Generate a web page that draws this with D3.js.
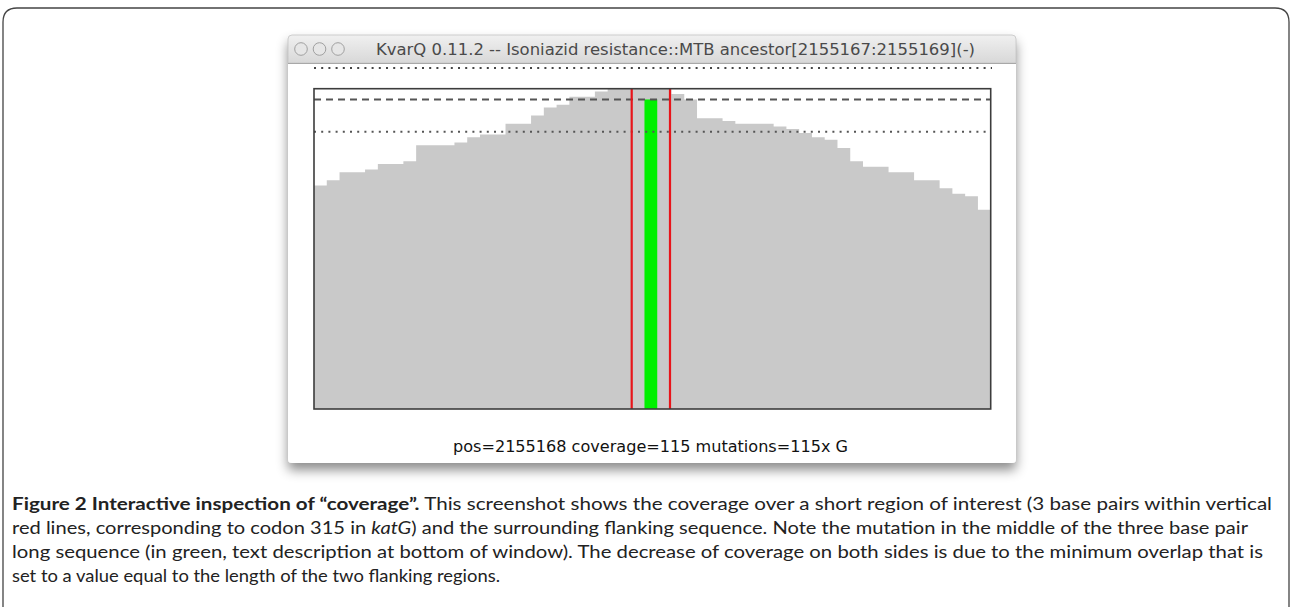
<!DOCTYPE html>
<html>
<head>
<meta charset="utf-8">
<script src="https://cdn.jsdelivr.net/npm/d3@7"></script>
<style>
  body { margin: 0; background: #fff; }
  svg { display: block; }
</style>
</head>
<body>
<div id="chart"></div>
<script>
// coverage per base, 25 bp flank + 3 bp region + 25 bp flank
var firstPos = 2155142;
var coverage = [
  83, 85, 88, 88, 89, 91, 91, 92, 98, 98,
  98, 99, 101, 102, 102, 106, 106, 109, 112, 113,
  116, 116, 118, 121, 122, 123, 123, 122, 117, 115,
  108, 108, 107, 106, 106, 106, 105, 104, 102.5, 101,
  100, 97, 92, 90, 90, 88, 88, 85, 85, 82,
  80, 79, 74
];
var roi = [2155167, 2155169];
var mutation = { pos: 2155168, count: 115, base: "G" };
var refLines = { dashed: 115, dotted: 103 };
var yMax = 119;

var titleText = "KvarQ 0.11.2 -- Isoniazid resistance::MTB ancestor[2155167:2155169](-)";
var statusText = "pos=2155168 coverage=115 mutations=115x G";

var W = 1292, H = 607;

var svg = d3.select("#chart").append("svg")
    .attr("width", W)
    .attr("height", H);

var defs = svg.append("defs");

var shadow = defs.append("filter")
    .attr("id", "winshadow")
    .attr("x", "-10%").attr("y", "-10%")
    .attr("width", "120%").attr("height", "130%");
shadow.append("feDropShadow")
    .attr("dx", 0).attr("dy", 7)
    .attr("stdDeviation", 6)
    .attr("flood-color", "#000")
    .attr("flood-opacity", 0.45);

var titleGrad = defs.append("linearGradient")
    .attr("id", "titlegrad")
    .attr("x1", 0).attr("y1", 0).attr("x2", 0).attr("y2", 1);
titleGrad.append("stop").attr("offset", "0%").attr("stop-color", "#f0f0f0");
titleGrad.append("stop").attr("offset", "100%").attr("stop-color", "#d8d8d8");

// outer page frame
svg.append("path")
    .attr("d", "M3,607 V22 Q3,8 17,8 H1275 Q1289,8 1289,22 V607")
    .attr("fill", "none")
    .attr("stroke", "#444")
    .attr("stroke-width", 1.3);

// window
var win = { x: 288, y: 35, w: 728, h: 428, bar: 28 };

svg.append("rect")
    .attr("x", win.x).attr("y", win.y)
    .attr("width", win.w).attr("height", win.h)
    .attr("rx", 4)
    .attr("fill", "#fff")
    .attr("filter", "url(#winshadow)");

svg.append("path")
    .attr("d", "M" + win.x + "," + (win.y + win.bar) +
        " V" + (win.y + 4) + " Q" + win.x + "," + win.y + " " + (win.x + 4) + "," + win.y +
        " H" + (win.x + win.w - 4) + " Q" + (win.x + win.w) + "," + win.y + " " + (win.x + win.w) + "," + (win.y + 4) +
        " V" + (win.y + win.bar) + " Z")
    .attr("fill", "url(#titlegrad)")
    .attr("stroke", "#c4c4c4")
    .attr("stroke-width", 0.8);

svg.append("line")
    .attr("x1", win.x).attr("x2", win.x + win.w)
    .attr("y1", win.y + win.bar + 0.5).attr("y2", win.y + win.bar + 0.5)
    .attr("stroke", "#a8a8a8");

// window buttons (inactive)
svg.selectAll("circle.btn")
    .data([0, 1, 2])
    .enter()
    .append("circle")
      .attr("class", "btn")
      .attr("cx", function(d) { return 301 + d * 18.5; })
      .attr("cy", 49)
      .attr("r", 6.3)
      .attr("fill", "#e6e6e6")
      .attr("stroke", "#a0a0a0")
      .attr("stroke-width", 1);

svg.append("text")
    .attr("x", 376)
    .attr("y", 55)
    .attr("textLength", 599)
    .attr("lengthAdjust", "spacingAndGlyphs")
    .style("font-family", "'DejaVu Sans Condensed', 'DejaVu Sans', sans-serif")
    .style("font-size", "16px")
    .style("fill", "#4a4a4a")
    .text(titleText);

// dotted line at top of window body
svg.append("line")
    .attr("x1", 314).attr("x2", 992)
    .attr("y1", 68).attr("y2", 68)
    .attr("stroke", "#444")
    .attr("stroke-width", 2)
    .attr("stroke-dasharray", "2,5.2");

// coverage plot
var plot = { left: 314, right: 990.7, top: 88.7, bottom: 409 };

var x = d3.scaleLinear()
    .domain([firstPos, firstPos + coverage.length])
    .range([plot.left, plot.right]);

var y = d3.scaleLinear()
    .domain([0, yMax])
    .range([plot.bottom, plot.top]);

defs.append("clipPath")
    .attr("id", "plotclip")
  .append("rect")
    .attr("x", plot.left).attr("y", plot.top)
    .attr("width", plot.right - plot.left)
    .attr("height", plot.bottom - plot.top);

var g = svg.append("g").attr("clip-path", "url(#plotclip)");

// step outline: one point per base plus a closing point at the end
var steps = coverage.map(function(v, i) { return { pos: firstPos + i, cov: v }; });
steps.push({ pos: firstPos + coverage.length, cov: coverage[coverage.length - 1] });

var area = d3.area()
    .curve(d3.curveStepAfter)
    .x(function(d) { return x(d.pos); })
    .y0(plot.bottom)
    .y1(function(d) { return y(d.cov); });

g.append("path")
    .datum(steps)
    .attr("d", area)
    .attr("fill", "#c9c9c9");

// mutation bar
g.append("rect")
    .attr("x", x(mutation.pos) - 1.5)
    .attr("width", x(mutation.pos + 1) - x(mutation.pos))
    .attr("y", y(mutation.count))
    .attr("height", plot.bottom - y(mutation.count))
    .attr("fill", "#00f000");

// reference lines
g.append("line")
    .attr("x1", plot.left).attr("x2", plot.right)
    .attr("y1", y(refLines.dashed)).attr("y2", y(refLines.dashed))
    .attr("stroke", "#555")
    .attr("stroke-width", 2)
    .attr("stroke-dasharray", "7,5");

g.append("line")
    .attr("x1", plot.left).attr("x2", plot.right)
    .attr("y1", y(refLines.dotted)).attr("y2", y(refLines.dotted))
    .attr("stroke", "#555")
    .attr("stroke-width", 2)
    .attr("stroke-dasharray", "2,5.2");

// region of interest borders
g.selectAll("line.roi")
    .data([roi[0], roi[1] + 1])
    .enter()
    .append("line")
      .attr("class", "roi")
      .attr("x1", function(d) { return x(d) - 1.5; })
      .attr("x2", function(d) { return x(d) - 1.5; })
      .attr("y1", plot.top).attr("y2", plot.bottom)
      .attr("stroke", "#e8141a")
      .attr("stroke-width", 2.2);

svg.append("rect")
    .attr("x", plot.left).attr("y", plot.top)
    .attr("width", plot.right - plot.left)
    .attr("height", plot.bottom - plot.top)
    .attr("fill", "none")
    .attr("stroke", "#3c3c3c")
    .attr("stroke-width", 1.6);

// status line
svg.append("text")
    .attr("x", 453)
    .attr("y", 452)
    .attr("textLength", 395)
    .attr("lengthAdjust", "spacingAndGlyphs")
    .style("font-family", "'DejaVu Sans Condensed', 'DejaVu Sans', sans-serif")
    .style("font-size", "16px")
    .style("fill", "#111")
    .text(statusText);

// caption
var capFont = "Lato, 'Open Sans', sans-serif";
var capLines = [
  { y: 510, len: 1260, parts: [
      { t: "Figure 2 Interactive inspection of \u201Ccoverage\u201D.", b: true },
      { t: " This screenshot shows the coverage over a short region of interest (3 base pairs within vertical" } ] },
  { y: 534, len: 1236, parts: [
      { t: "red lines, corresponding to codon 315 in " },
      { t: "katG", i: true },
      { t: ") and the surrounding flanking sequence. Note the mutation in the middle of the three base pair" } ] },
  { y: 558, len: 1251, parts: [
      { t: "long sequence (in green, text description at bottom of window). The decrease of coverage on both sides is due to the minimum overlap that is" } ] },
  { y: 582, len: 488, parts: [
      { t: "set to a value equal to the length of the two flanking regions." } ] }
];

capLines.forEach(function(line) {
  var t = svg.append("text")
      .attr("x", 12)
      .attr("y", line.y)
      .attr("textLength", line.len)
      .attr("lengthAdjust", "spacingAndGlyphs")
      .style("font-family", capFont)
      .style("font-size", "16.5px")
      .style("fill", "#222");
  line.parts.forEach(function(p) {
    t.append("tspan")
      .style("font-weight", p.b ? "bold" : "normal")
      .style("font-style", p.i ? "italic" : "normal")
      .text(p.t);
  });
});
</script>
</body>
</html>
